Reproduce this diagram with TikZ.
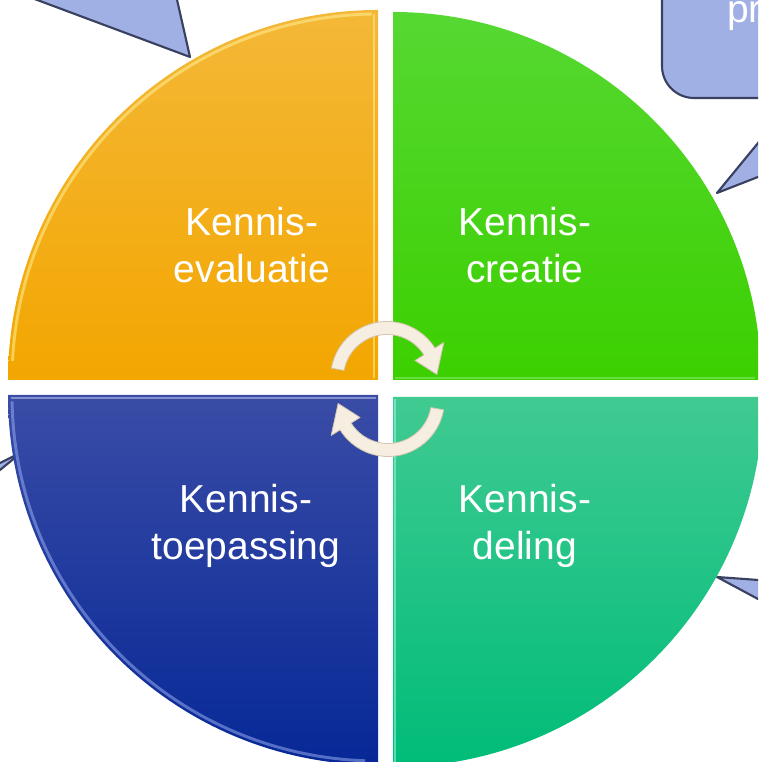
\documentclass[tikz,border=0pt]{standalone}
\usepackage{fontspec}
\setmainfont{Liberation Sans}
\definecolor{orTop}{RGB}{244,184,56}
\definecolor{orBot}{RGB}{242,166,0}
\definecolor{grTop}{RGB}{86,216,50}
\definecolor{grBot}{RGB}{60,208,0}
\definecolor{blTop}{RGB}{58,76,166}
\definecolor{blBot}{RGB}{6,40,150}
\definecolor{tlTop}{RGB}{64,202,146}
\definecolor{tlBot}{RGB}{0,188,120}
\definecolor{calloutfill}{RGB}{160,176,228}
\definecolor{calloutline}{RGB}{58,64,96}
\definecolor{arrowfill}{RGB}{246,238,224}
\definecolor{arrowline}{RGB}{210,196,172}
\begin{document}
\begin{tikzpicture}[x=0.75pt,y=0.75pt,
  lab/.style={text=white,font=\fontsize{29.25}{35.5}\selectfont,align=center,inner sep=0pt,anchor=base},
  callout/.style={fill=calloutfill,draw=calloutline,line width=1.6pt,line join=round},
  turn/.style={fill=arrowfill,draw=arrowline,line width=0.6pt,line join=round},
  hl/.style={line width=2.2pt,opacity=0.55}]
\useasboundingbox (0,0) rectangle (758,762);
\begin{scope}
\clip (0,0) rectangle (758,762);
% callouts
\path[callout] (190,705) -- (-11,780) -- (173,780) -- cycle;
\path[callout] (717,569) -- (795,664) -- (960,664) -- cycle;
\path[callout,rounded corners=24] (662,664) rectangle (1000,800);
\node[text=white,font=\fontsize{29.25}{35.25}\selectfont,anchor=base west,inner sep=0pt] (ptext) at (727,739) {pr};
\path[callout] (22,310) -- (-60,269) -- (-60,243) -- cycle;
\path[callout] (717,185) -- (820,177.5) -- (820,129.7) -- cycle;
% quadrants
\path[top color=orTop,bottom color=orBot] (378,382) -- (8,382) arc[start angle=180,end angle=90,radius=370] -- cycle;
\path[top color=grTop,bottom color=grBot] (393,382) -- (393,750) arc[start angle=90,end angle=0,radius=368] -- cycle;
\path[top color=blTop,bottom color=blBot] (378,367) -- (8,367) arc[start angle=180,end angle=270,radius=370] -- cycle;
\path[top color=tlTop,bottom color=tlBot] (393,365) -- (763,365) arc[start angle=0,end angle=-90,radius=370] -- cycle;
% bevel highlights
\draw[hl,draw={rgb,255:red,255;green,240;blue,150}] ([shift={(378,382)}]177:366) arc[start angle=177,end angle=91,radius=366];
\draw[hl,draw={rgb,255:red,255;green,240;blue,150}] (374,384) -- (374,748);
\draw[hl,draw={rgb,255:red,140;green,235;blue,110}] (395,384) -- (755,384);
\draw[hl,draw={rgb,255:red,150;green,170;blue,240}] ([shift={(378,367)}]181:366) arc[start angle=181,end angle=268,radius=366];
\draw[hl,draw={rgb,255:red,190;green,200;blue,240}] (11,364) -- (376,364);
\draw[hl,draw={rgb,255:red,150;green,250;blue,230}] (395,363) -- (395,0);
% labels
\node[lab] (eval) at (252,479) {Kennis-\\evaluatie};
\node[lab] (crea) at (525,479) {Kennis-\\creatie};
\node[lab] (toep) at (246,202) {Kennis-\\toepassing};
\node[lab] (deel) at (525,202) {Kennis-\\deling};
% cycle arrows
\coordinate (c1) at (387,384);
\coordinate (c2) at (388,362);
\path[turn] ([shift={(c1)}]170:56.5) arc[start angle=170,end angle=32,radius=56.5]
  -- ([shift={(c1)}]32:67) -- ([shift={(c1)}]4:50) -- ([shift={(c1)}]32:33)
  -- ([shift={(c1)}]32:43.5) arc[start angle=32,end angle=170,radius=43.5] -- cycle;
\path[turn] ([shift={(c2)}]350:56.5) arc[start angle=350,end angle=212,radius=56.5]
  -- ([shift={(c2)}]212:67) -- ([shift={(c2)}]184:50) -- ([shift={(c2)}]212:33)
  -- ([shift={(c2)}]212:43.5) arc[start angle=212,end angle=350,radius=43.5] -- cycle;
\end{scope}
\end{tikzpicture}
\end{document}
